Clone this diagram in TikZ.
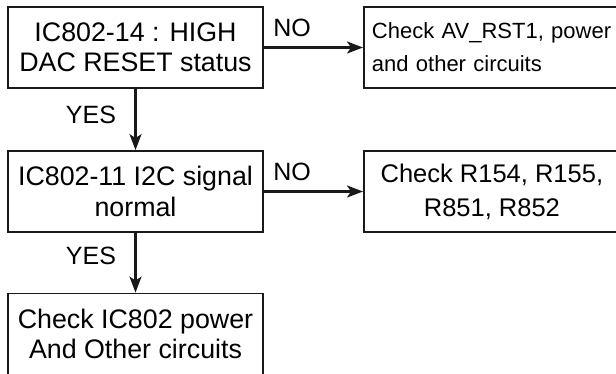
\documentclass[tikz,border=0pt]{standalone}
\usepackage{fontspec}
\setmainfont{Liberation Sans}
\usetikzlibrary{arrows.meta}
\begin{document}
\begin{tikzpicture}[x=1pt,y=-1pt,
  box/.style={draw=black!90, line width=1.8pt, minimum width=255pt, minimum height=81pt,
    inner sep=0pt, align=center, font=\fontsize{26.8}{30.5}\selectfont},
  rbox/.style={box, anchor=west, minimum width=256pt},
  conn/.style={draw=black!90, line width=2.2pt, -{Stealth[length=16pt,width=12pt,inset=4pt]}},
  lab/.style={font=\fontsize{25}{28}\selectfont, inner sep=0pt}]
\useasboundingbox (0,0) rectangle (616,373);
\node[box] (b1) at (135.5,47.5) {IC802-14 : HIGH\\DAC RESET status};
\node[box] (b2) at (135.5,191.5) {IC802-11 I2C signal\\normal};
\node[box] (b3) at (135.5,334) {Check IC802 power\\And Other circuits};
\node[rbox, align=left, inner xsep=8pt, text width=242pt,
  font=\fontsize{22}{33}\selectfont] (r1) at (363,47.5) {Check AV\_RST1, power\\and other circuits};
\node[rbox, inner sep=0pt, font=\fontsize{25.5}{34}\selectfont] (r2) at (363,191.5) {Check R154, R155,\\R851, R852};
\draw[conn] (b1) -- (b2);
\draw[conn] (b2) -- (b3);
\draw[conn] (b1.east) -- (r1.west);
\draw[conn] (b2.east) -- (r2.west);
\node[lab] (y1) at (91,114.5) {YES};
\node[lab] (y2) at (91,256) {YES};
\node[lab] (n1) at (292,27.5) {NO};
\node[lab] (n2) at (292,171.5) {NO};
\end{tikzpicture}
\end{document}
